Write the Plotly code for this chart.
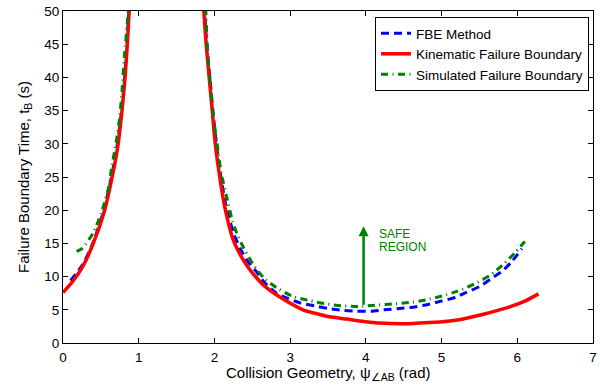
import plotly.graph_objects as go

# ---- data ----
x_kin_left = [0, 0.13, 0.26, 0.40, 0.55, 0.66, 0.73, 0.78, 0.82, 0.85, 0.875, 0.885]
y_kin_left = [7.6, 9.3, 11.5, 15.0, 20.0, 25.6, 30.1, 35.1, 40.1, 45.1, 50.2, 53]
x_kin_right = [1.85, 1.86, 1.89, 1.93, 1.97, 2.01, 2.07, 2.14, 2.24, 2.34, 2.44, 2.55, 2.66,
               2.88, 3.17, 3.39, 3.52, 3.75, 4.0, 4.18, 4.53, 4.71, 5.01, 5.23, 5.54, 5.89,
               6.10, 6.28]
y_kin_right = [53, 50, 45.1, 40.1, 35.1, 30.1, 25.0, 20.3, 15.8, 13.3, 11.5, 9.9, 8.6,
               6.8, 5.0, 4.3, 3.95, 3.6, 3.2, 3.0, 2.9, 3.0, 3.2, 3.5, 4.3, 5.4,
               6.3, 7.4]

x_fbe_left = [0.10, 0.26, 0.40, 0.54, 0.65, 0.72, 0.775, 0.815, 0.845, 0.87, 0.88]
y_fbe_left = [9.4, 11.8, 15.2, 20.0, 25.6, 30.1, 35.1, 40.1, 45.1, 50.2, 53]
x_fbe_right = [1.86, 1.87, 1.90, 1.94, 1.98, 2.025, 2.085, 2.16, 2.26, 2.35, 2.44, 2.55, 2.66,
               2.82, 2.97, 3.14, 3.32, 3.50, 3.70, 3.87, 4.07, 4.24, 4.44, 4.62, 4.82, 4.99,
               5.19, 5.32, 5.50, 5.67, 5.80, 5.93, 6.06]
y_fbe_right = [53, 50, 45, 40, 35, 30, 25, 20.2, 16.3, 14.0, 12.3, 10.8, 9.1,
               7.5, 6.7, 6.0, 5.6, 5.2, 4.9, 4.8, 4.8, 5.0, 5.2, 5.4, 5.8, 6.3,
               6.9, 7.6, 8.5, 9.8, 10.8, 12.3, 14.2]

x_sim_left = [0.18, 0.26, 0.40, 0.48, 0.55, 0.61, 0.64, 0.70, 0.75, 0.78, 0.81, 0.845, 0.865, 0.875]
y_sim_left = [13.8, 14.3, 16.6, 18.8, 21.2, 23.8, 26.3, 30.1, 34.1, 38.1, 43.1, 47.6, 50.5, 53]
x_sim_right = [1.875, 1.89, 1.91, 1.95, 1.98, 2.04, 2.09, 2.18, 2.24, 2.31, 2.41, 2.52, 2.66,
               2.84, 3.04, 3.25, 3.47, 3.69, 3.91, 4.13, 4.38, 4.58, 4.80, 5.01, 5.21, 5.45,
               5.64, 5.81, 5.97, 6.10]
y_sim_right = [53, 49.1, 43.6, 38.6, 34.6, 29.6, 25.6, 21.1, 18.3, 16.1, 13.8, 11.7, 9.7,
               8.2, 7.0, 6.4, 5.9, 5.6, 5.5, 5.7, 5.9, 6.1, 6.5, 7.1, 7.8, 9.0,
               10.2, 11.8, 13.6, 15.3]

arrow_x = 3.97
arrow_y_tail = 5.55
arrow_y_head = 17.6

x_ticks = [0, 1, 2, 3, 4, 5, 6, 7]
y_ticks = [0, 5, 10, 15, 20, 25, 30, 35, 40, 45, 50]

FONT = "Liberation Sans, Arial, sans-serif"


def join(a, b):
    return list(a) + [None] + list(b)


fig = go.Figure()
fig.add_trace(go.Scatter(
    x=join(x_fbe_left, x_fbe_right), y=join(y_fbe_left, y_fbe_right),
    mode="lines", name="FBE Method", connectgaps=False,
    line=dict(color="#0000FF", width=3, dash="8px,5px", shape="spline", smoothing=0.6)))
fig.add_trace(go.Scatter(
    x=join(x_kin_left, x_kin_right), y=join(y_kin_left, y_kin_right),
    mode="lines", name="Kinematic Failure Boundary", connectgaps=False,
    line=dict(color="#FF0000", width=3.5, shape="spline", smoothing=0.6)))
fig.add_trace(go.Scatter(
    x=join(x_sim_left, x_sim_right), y=join(y_sim_left, y_sim_right),
    mode="lines", name="Simulated Failure Boundary", connectgaps=False,
    line=dict(color="#008000", width=3, dash="7px,4.5px,1px,4.5px", shape="spline", smoothing=0.6)))

fig.add_annotation(x=arrow_x, y=arrow_y_head, ax=arrow_x, ay=arrow_y_tail,
                   xref="x", yref="y", axref="x", ayref="y", text="",
                   showarrow=True, arrowhead=2, arrowsize=0.8, arrowwidth=2.5,
                   arrowcolor="#008000", standoff=0, startstandoff=0)
fig.add_annotation(x=4.15, y=16.4, xref="x", yref="y", text="SAFE", showarrow=False,
                   xanchor="left", yanchor="middle", font=dict(family=FONT, size=12, color="#008000"))
fig.add_annotation(x=4.15, y=14.4, xref="x", yref="y", text="REGION", showarrow=False,
                   xanchor="left", yanchor="middle", font=dict(family=FONT, size=12, color="#008000"))

# x-axis title (placed as paper annotation so its position matches the reference)
fig.add_annotation(x=0.5, y=-0.057, xref="paper", yref="paper",
                   text="Collision Geometry, ψ<sub>∠AB</sub> (rad)", showarrow=False,
                   xanchor="center", yanchor="top",
                   font=dict(family=FONT, size=15, color="black"))

axis_common = dict(showline=True, linecolor="black", linewidth=1, mirror="ticks",
                   ticks="inside", ticklen=5, tickcolor="black", showgrid=False,
                   zeroline=False, tickfont=dict(family=FONT, size=13.5, color="black"))

fig.update_xaxes(range=[0, 7], tickvals=x_ticks, ticktext=[str(v) for v in x_ticks],
                 ticklabelstandoff=2, **axis_common)
fig.update_yaxes(range=[0, 50], tickvals=y_ticks, ticktext=[str(v) for v in y_ticks],
                 title=dict(text="Failure Boundary Time, t<sub>B</sub> (s)",
                            font=dict(family=FONT, size=15, color="black"), standoff=11),
                 **axis_common)

fig.update_layout(
    width=600, height=385,
    margin=dict(l=63, r=7, t=11, b=42, autoexpand=False),
    paper_bgcolor="white", plot_bgcolor="white",
    showlegend=True,
    legend=dict(x=0.9925, y=0.982, xanchor="right", yanchor="top",
                bgcolor="white", bordercolor="black", borderwidth=1,
                font=dict(family=FONT, size=13.5, color="black"),
                itemwidth=30, tracegroupgap=0),
)

fig.write_html("out.html", config={"displayModeBar": False},
               post_script="document.body.style.margin='0';document.body.style.padding='0';")
